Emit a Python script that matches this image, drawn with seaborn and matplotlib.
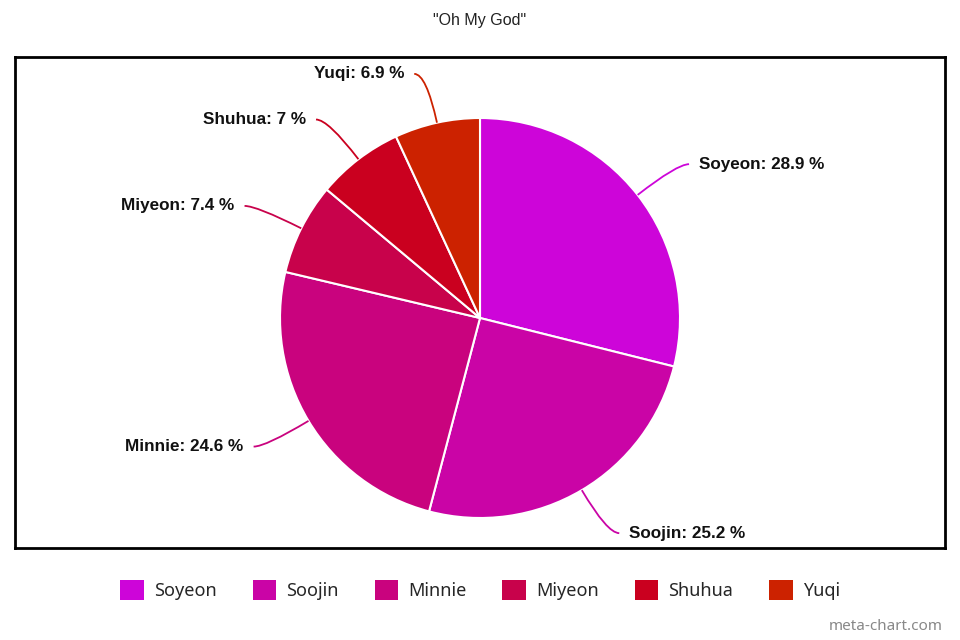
import numpy as np
import seaborn as sns
import matplotlib.pyplot as plt
from matplotlib.path import Path
from matplotlib.patches import PathPatch, Patch

# data
members = ["Soyeon", "Soojin", "Minnie", "Miyeon", "Shuhua", "Yuqi"]
shares = [28.9, 25.2, 24.6, 7.4, 7.0, 6.9]
colors = ["#cd05d9", "#ca04a6", "#c9037e", "#c8024b", "#ca001f", "#cc2200"]
title = '"Oh My God"'

sns.set_theme(style="white")
plt.rcParams['font.family'] = ['Liberation Sans', 'DejaVu Sans']

fig = plt.figure(figsize=(9.6, 6.4), dpi=100)
# axes == the black frame box (pixels 15..945 x 57..548)
ax = fig.add_axes([15 / 960, 1 - 548 / 640, 930 / 960, 491 / 640])

palette = sns.color_palette(colors)
wedges, _ = ax.pie(shares, colors=palette, startangle=90, counterclock=False,
                   radius=1.0, wedgeprops=dict(edgecolor="white", linewidth=1.5))

# connectors + labels
for w, name, val in zip(wedges, members, shares):
    ang = np.deg2rad((w.theta1 + w.theta2) / 2)
    c, s = np.cos(ang), np.sin(ang)
    side = 1 if c >= 0 else -1
    p0 = (c, s)
    p1 = (1.25 * c, 1.25 * s)
    p2 = (1.25 * c + side * 0.06, 1.25 * s)
    path = Path([p0, p1, p2], [Path.MOVETO, Path.CURVE3, Path.CURVE3])
    ax.add_patch(PathPatch(path, fill=False, edgecolor=w.get_facecolor(), lw=1.3))
    ax.text(p2[0] + side * 0.05, p2[1], f"{name}: {val:g} %",
            ha="left" if side > 0 else "right", va="center",
            fontsize=12.3, fontweight="bold", color="#111111")

ax.set_xlim(-2.325, 2.325)
ax.set_ylim(-1.15, 1.305)
ax.set_aspect("equal", adjustable="box")
ax.set_frame_on(True)
for sp in ax.spines.values():
    sp.set_visible(True)
    sp.set_color("black")
    sp.set_linewidth(2)
ax.set_xticks([])
ax.set_yticks([])

fig.text(0.5, 1 - 21 / 640, title, ha="center", va="center", fontsize=11.5, color="#222222")

handles = [Patch(facecolor=col, edgecolor="none") for col in palette]
fig.legend(handles, members, loc="center", bbox_to_anchor=(0.5, 1 - 590 / 640), ncol=6,
           frameon=False, prop={"family": "Noto Sans", "size": 13},
           handlelength=1.3, handleheight=1.3, handletextpad=0.55, columnspacing=2.0)

fig.text(943 / 960, 1 - 627 / 640, "meta-chart.com", ha="right", va="center",
         fontsize=11, color="#888888", family="Noto Sans")

fig.savefig("out.png", dpi=100, facecolor="white")
